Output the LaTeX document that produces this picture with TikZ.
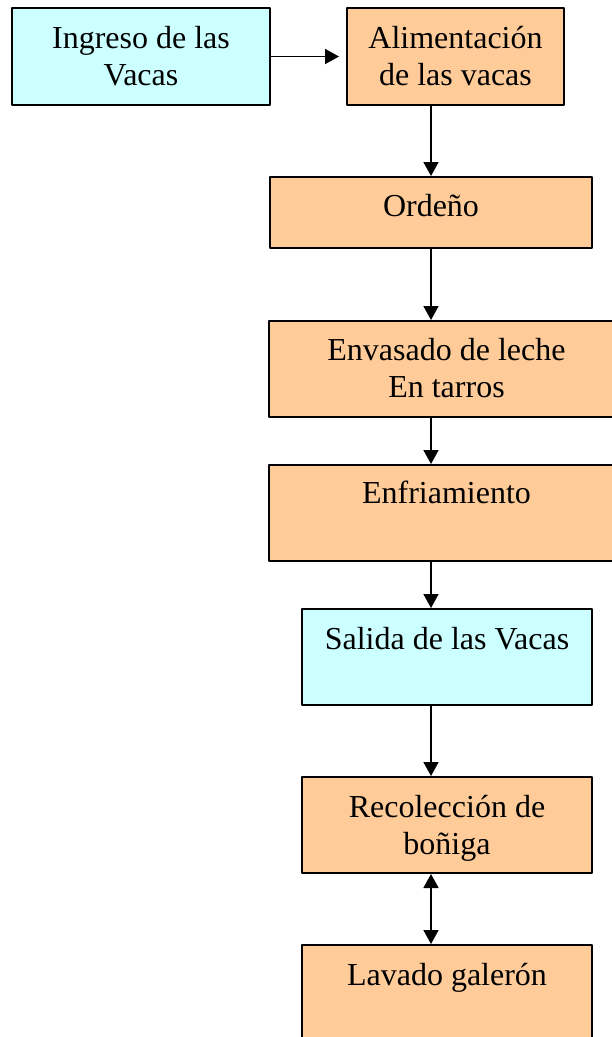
\documentclass[tikz,border=0pt]{standalone}
\usepackage{fontspec}
\setmainfont{Liberation Serif}
\usetikzlibrary{positioning,arrows.meta}
\definecolor{naranja}{HTML}{FFCC99}
\definecolor{celeste}{HTML}{CCFFFF}

\begin{document}
\begin{tikzpicture}[x=1pt,y=-1pt,>={Triangle[length=14pt,width=15pt]},line join=bevel,
    caja/.style={draw,line width=2pt,fill=naranja,inner sep=0pt},
    cajavaca/.style={caja,fill=celeste},
    texto/.style={anchor=north,inner sep=0pt,align=center,font=\fontsize{32}{37}\selectfont},
    flecha/.style={line width=1.8pt,->}]

  \useasboundingbox (0,0) rectangle (612,1037);

  \node (node_ingreso) at (141,56.5) [cajavaca,minimum width=258pt,minimum height=97pt] {};
  \node (node_alim) at (455.5,56.5) [caja,minimum width=217pt,minimum height=97pt] {};
  \node (node_ordeno) at (431,212.5) [caja,minimum width=322pt,minimum height=71pt] {};
  \node (node_envasado) at (446.5,369) [caja,minimum width=355pt,minimum height=96pt] {};
  \node (node_enfria) at (446.5,513) [caja,minimum width=355pt,minimum height=96pt] {};
  \node (node_salida) at (447,657) [cajavaca,minimum width=290pt,minimum height=96pt] {};
  \node (node_recoleccion) at (447,825) [caja,minimum width=290pt,minimum height=96pt] {};
  \node (node_lavado) at (447,993) [caja,minimum width=290pt,minimum height=96pt] {};

  \node (txt_ingreso) at ([yshift=-19pt]node_ingreso.north) [texto] {Ingreso de las\\Vacas};
  \node (txt_alim) at ([yshift=-19pt]node_alim.north) [texto] {Alimentación\\de las vacas};
  \node (txt_ordeno) at ([yshift=-18pt]node_ordeno.north) [texto] {Ordeño};
  \node (txt_envasado) at ([yshift=-18pt]node_envasado.north) [texto] {Envasado de leche\\En tarros};
  \node (txt_enfria) at ([yshift=-17pt]node_enfria.north) [texto] {Enfriamiento};
  \node (txt_salida) at ([yshift=-19pt]node_salida.north) [texto] {Salida de las Vacas};
  \node (txt_recoleccion) at ([yshift=-19pt]node_recoleccion.north) [texto] {Recolección de\\boñiga};
  \node (txt_lavado) at ([yshift=-19pt]node_lavado.north) [texto] {Lavado galerón};

  \coordinate (eje) at (431,0);

  \draw [flecha,shorten >=7pt] (node_ingreso) -- (node_alim);
  \draw [flecha] (node_alim.south -| eje) -- (node_ordeno.north -| eje);
  \draw [flecha] (node_ordeno.south -| eje) -- (node_envasado.north -| eje);
  \draw [flecha] (node_envasado.south -| eje) -- (node_enfria.north -| eje);
  \draw [flecha] (node_enfria.south -| eje) -- (node_salida.north -| eje);
  \draw [flecha] (node_salida.south -| eje) -- (node_recoleccion.north -| eje);
  \draw [flecha,<->] (node_recoleccion.south -| eje) -- (node_lavado.north -| eje);
%
\end{tikzpicture}
\end{document}
